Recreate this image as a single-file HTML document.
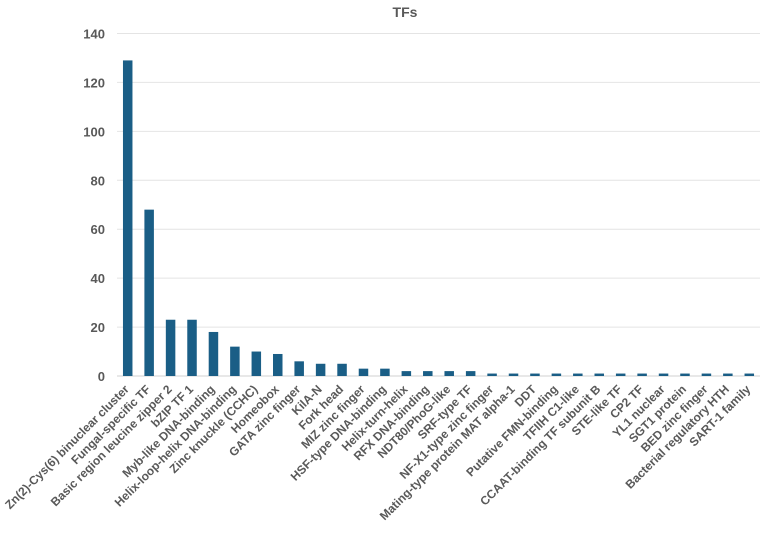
<!DOCTYPE html>
<html><head><meta charset="utf-8"><style>
body{margin:0;background:#fff;width:767px;height:529px;overflow:hidden;font-family:"Liberation Sans",Arial,sans-serif}
</style></head><body>
<svg id="chart" width="767" height="529" xmlns="http://www.w3.org/2000/svg">
<text x="405" y="17" text-anchor="middle" font-size="14" font-weight="bold" fill="#595959">TFs</text>
<g id="grid"></g><g id="yticks"></g><g id="bars"></g><g id="xlabels"></g>
</svg>
<script>
const categories=["Zn(2)-Cys(6) binuclear cluster","Fungal-specific TF","Basic region leucine zipper 2","bZIP TF 1","Myb-like DNA-binding","Helix-loop-helix DNA-binding","Zinc knuckle (CCHC)","Homeobox","GATA zinc finger","KilA-N","Fork head","MIZ zinc finger","HSF-type DNA-binding","Helix-turn-helix","RFX DNA-binding","NDT80/PhoG-like","SRF-type TF","NF-X1-type zinc finger","Mating-type protein MAT alpha-1","DDT","Putative FMN-binding","TFIIH C1-like","CCAAT-binding TF subunit B","STE-like TF","CP2 TF","YL1 nuclear","SGT1 protein","BED zinc finger","Bacterial regulatory HTH","SART-1 family"];
const values=[129,68,23,23,18,12,10,9,6,5,5,3,3,2,2,2,2,1,1,1,1,1,1,1,1,1,1,1,1,1];
const yTicks=[0,20,40,60,80,100,120,140];
const NS="http://www.w3.org/2000/svg";
const L=117,R=760,T=33.5,B=376,yMax=140;
const y=v=>B-(B-T)*v/yMax;
const step=(R-L)/categories.length;
const x=i=>L+step*(i+0.5);
function mk(tag,attrs,parent){const e=document.createElementNS(NS,tag);for(const k in attrs)e.setAttribute(k,attrs[k]);document.getElementById(parent).appendChild(e);return e;}
yTicks.forEach(t=>{
  const g=mk('line',{x1:L,x2:R,y1:y(t),y2:y(t),stroke:t===0?'#d0d0d0':'#e4e4e4','stroke-width':1},'grid');
  
  
  const tx=mk('text',{x:105,y:y(t)+5,'text-anchor':'end','font-size':13,'font-weight':'bold',fill:'#595959'},'yticks');
  tx.textContent=t;
  
  
});
categories.forEach((c,i)=>{
  const bw=9.5;
  const b=mk('rect',{x:x(i)-bw/2,y:y(values[i]),width:bw,height:B-y(values[i]),fill:'#1a5e86'},'bars');
  
  
  const tx=mk('text',{x:0,y:0,'text-anchor':'end','font-size':12,'font-weight':'bold',fill:'#595959',transform:`translate(${x(i)+2},${B+14}) rotate(-45)`},'xlabels');
  tx.textContent=c;
  
  
});
</script>
</body></html>
